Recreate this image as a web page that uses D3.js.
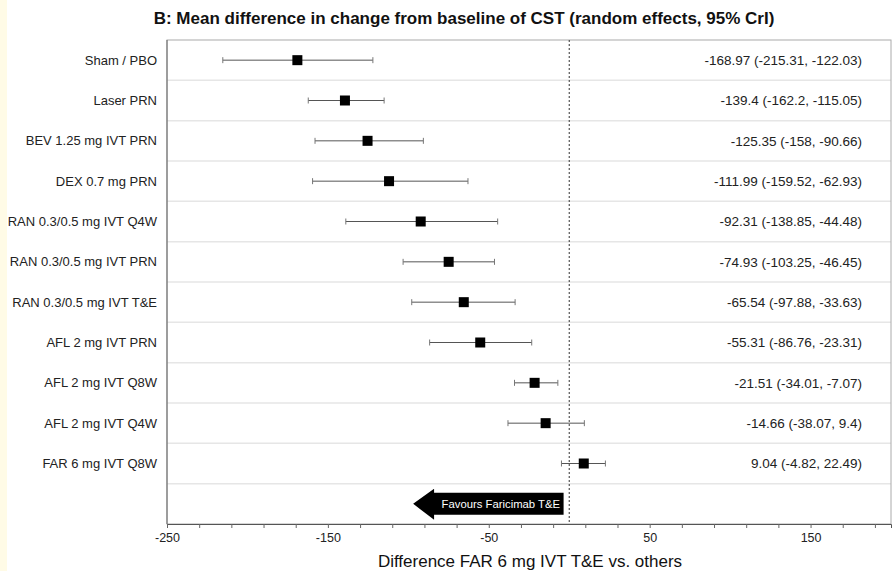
<!DOCTYPE html>
<html>
<head>
<meta charset="utf-8">
<script src="https://cdn.jsdelivr.net/npm/d3@7"></script>
<style>
  body { margin: 0; background: #fff; }
  svg { display: block; font-family: "Liberation Sans", Arial, sans-serif; }
</style>
</head>
<body>
<div id="chart"></div>
<script>
// treatments, top to bottom
var treatments = [
    "Sham / PBO", "Laser PRN", "BEV 1.25 mg IVT PRN", "DEX 0.7 mg PRN",
    "RAN 0.3/0.5 mg IVT Q4W", "RAN 0.3/0.5 mg IVT PRN", "RAN 0.3/0.5 mg IVT T&E",
    "AFL 2 mg IVT PRN", "AFL 2 mg IVT Q8W", "AFL 2 mg IVT Q4W", "FAR 6 mg IVT Q8W"
];
var means = [-168.97, -139.4, -125.35, -111.99, -92.31, -74.93, -65.54, -55.31, -21.51, -14.66, 9.04];
var lower = [-215.31, -162.2, -158, -159.52, -138.85, -103.25, -97.88, -86.76, -34.01, -38.07, -4.82];
var upper = [-122.03, -115.05, -90.66, -62.93, -44.48, -46.45, -33.63, -23.31, -7.07, 9.4, 22.49];
var tickLabels = [-250, -150, -50, 50, 150];

var width = 892, height = 571;
var margin = { top: 40, right: 1, bottom: 47, left: 167 };

var svg = d3.select("#chart").append("svg")
    .attr("width", width)
    .attr("height", height);

// pale strip on the left edge
svg.append("rect").attr("x", 0).attr("y", 0).attr("width", 7).attr("height", height)
    .attr("fill", "#fffbe6");

var x = d3.scaleLinear().domain([-250, 200]).range([margin.left, width - margin.right]);

var rows = treatments.concat(["arrow"]);
var y = d3.scaleBand().domain(rows).range([margin.top, height - margin.bottom]);

// row separators
svg.selectAll("line.sep")
    .data(rows.slice(1))
    .enter().append("line")
    .attr("class", "sep")
    .attr("x1", x(-250)).attr("x2", x(200))
    .attr("y1", d => y(d)).attr("y2", d => y(d))
    .attr("stroke", "#e6e6e6")
    .attr("stroke-width", 1.5);

// panel border
svg.append("rect")
    .attr("x", x(-250)).attr("y", margin.top)
    .attr("width", x(200) - x(-250)).attr("height", height - margin.bottom - margin.top)
    .attr("fill", "none")
    .attr("stroke", "#aaa");
svg.append("line")
    .attr("x1", x(-250)).attr("x2", x(-250))
    .attr("y1", margin.top).attr("y2", height - margin.bottom)
    .attr("stroke", "#666");

// zero line
svg.append("line")
    .attr("x1", x(0)).attr("x2", x(0))
    .attr("y1", margin.top).attr("y2", height - margin.bottom)
    .attr("stroke", "#333")
    .attr("stroke-dasharray", "2,2");

// x axis
var axis = svg.append("g")
    .attr("transform", "translate(0," + (height - margin.bottom) + ")")
    .call(d3.axisBottom(x).tickValues(d3.range(-250, 201, 20)).tickSize(4)
        .tickFormat(d => tickLabels.indexOf(d) >= 0 ? d : ""));
axis.select(".domain").attr("stroke", "#555");
axis.selectAll(".tick line").attr("stroke", "#666");
axis.selectAll(".tick text")
    .attr("font-size", 12.5).attr("fill", "#222").attr("dy", "0.85em");
svg.append("text")
    .attr("x", 530).attr("y", 567)
    .attr("text-anchor", "middle")
    .attr("font-size", 17)
    .attr("fill", "#111")
    .text("Difference FAR 6 mg IVT T&E vs. others");

// title
svg.append("text")
    .attr("x", 464).attr("y", 24)
    .attr("text-anchor", "middle")
    .attr("font-size", 17)
    .attr("font-weight", "bold")
    .attr("fill", "#111")
    .text("B: Mean difference in change from baseline of CST (random effects, 95% CrI)");

var cy = d => y(d) + y.bandwidth() / 2;

// treatment labels
svg.selectAll("text.lab")
    .data(treatments)
    .enter().append("text")
    .attr("class", "lab")
    .attr("x", 157).attr("y", cy)
    .attr("dy", "0.35em")
    .attr("text-anchor", "end")
    .attr("font-size", 13)
    .attr("fill", "#222")
    .text(d => d);

// estimate text
svg.selectAll("text.est")
    .data(treatments)
    .enter().append("text")
    .attr("class", "est")
    .attr("x", 862).attr("y", cy)
    .attr("dy", "0.35em")
    .attr("text-anchor", "end")
    .attr("font-size", 13.5)
    .attr("fill", "#222")
    .text((d, i) => means[i] + " (" + lower[i] + ", " + upper[i] + ")");

// interval lines
var g = svg.selectAll("g.row")
    .data(treatments)
    .enter().append("g")
    .attr("class", "row");

g.append("line")
    .attr("x1", (d, i) => x(lower[i])).attr("x2", (d, i) => x(upper[i]))
    .attr("y1", cy).attr("y2", cy)
    .attr("stroke", "#555");
g.append("line")
    .attr("x1", (d, i) => x(lower[i])).attr("x2", (d, i) => x(lower[i]))
    .attr("y1", d => cy(d) - 3).attr("y2", d => cy(d) + 3)
    .attr("stroke", "#777");
g.append("line")
    .attr("x1", (d, i) => x(upper[i])).attr("x2", (d, i) => x(upper[i]))
    .attr("y1", d => cy(d) - 3).attr("y2", d => cy(d) + 3)
    .attr("stroke", "#777");
g.append("rect")
    .attr("x", (d, i) => x(means[i]) - 5)
    .attr("y", d => cy(d) - 5)
    .attr("width", 10).attr("height", 10)
    .attr("fill", "#000");

// favours arrow
var ay = cy("arrow");
var ax0 = x(-97), ax1 = x(-3.5), ah = x(-84);
svg.append("path")
    .attr("d", "M" + ax0 + "," + ay +
        " L" + ah + "," + (ay - 15) +
        " L" + ah + "," + (ay - 11) +
        " L" + ax1 + "," + (ay - 11) +
        " L" + ax1 + "," + (ay + 11) +
        " L" + ah + "," + (ay + 11) +
        " L" + ah + "," + (ay + 16) + " Z")
    .attr("fill", "#000");
svg.append("text")
    .attr("x", (ah + ax1) / 2 + 2).attr("y", ay)
    .attr("dy", "0.35em")
    .attr("text-anchor", "middle")
    .attr("font-size", 11.3)
    .attr("fill", "#fff")
    .text("Favours Faricimab T&E");
</script>
</body>
</html>
